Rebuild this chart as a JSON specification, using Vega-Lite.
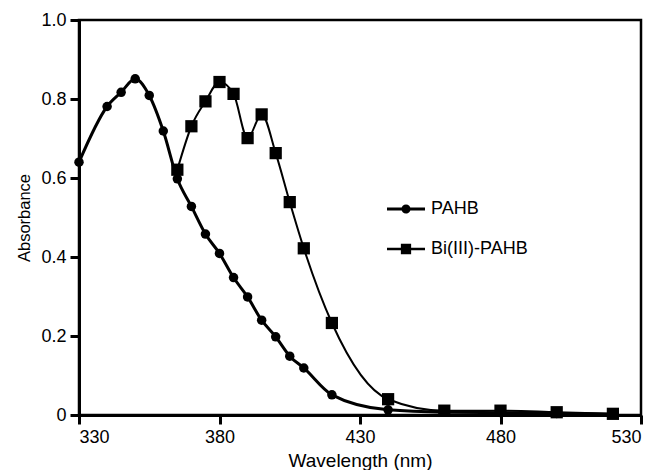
{
  "$schema": "https://vega.github.io/schema/vega-lite/v6.json",
  "width": 562,
  "height": 395,
  "autosize": "none",
  "padding": {"left": 79, "top": 20, "right": 17, "bottom": 55},
  "background": "white",
  "config": {
    "view": {"stroke": "black", "strokeWidth": 2.5},
    "font": "Liberation Sans",
    "axis": {
      "grid": false,
      "domainColor": "black",
      "domainWidth": 3,
      "tickColor": "black",
      "tickWidth": 3,
      "tickSize": 9,
      "labelColor": "black",
      "labelFont": "Liberation Sans",
      "labelFontSize": 18,
      "labelPadding": 4,
      "titleColor": "black",
      "titleFont": "Liberation Sans",
      "titleFontWeight": "normal"
    }
  },
  "data": {
    "values": [
      {"series": "PAHB", "wavelength": 330, "absorbance": 0.640},
      {"series": "PAHB", "wavelength": 340, "absorbance": 0.781},
      {"series": "PAHB", "wavelength": 345, "absorbance": 0.817},
      {"series": "PAHB", "wavelength": 350, "absorbance": 0.851},
      {"series": "PAHB", "wavelength": 355, "absorbance": 0.809},
      {"series": "PAHB", "wavelength": 360, "absorbance": 0.719},
      {"series": "PAHB", "wavelength": 365, "absorbance": 0.598},
      {"series": "PAHB", "wavelength": 370, "absorbance": 0.528},
      {"series": "PAHB", "wavelength": 375, "absorbance": 0.458},
      {"series": "PAHB", "wavelength": 380, "absorbance": 0.409},
      {"series": "PAHB", "wavelength": 385, "absorbance": 0.348},
      {"series": "PAHB", "wavelength": 390, "absorbance": 0.299},
      {"series": "PAHB", "wavelength": 395, "absorbance": 0.240},
      {"series": "PAHB", "wavelength": 400, "absorbance": 0.198},
      {"series": "PAHB", "wavelength": 405, "absorbance": 0.149},
      {"series": "PAHB", "wavelength": 410, "absorbance": 0.119},
      {"series": "PAHB", "wavelength": 420, "absorbance": 0.051},
      {"series": "PAHB", "wavelength": 440, "absorbance": 0.013},
      {"series": "PAHB", "wavelength": 460, "absorbance": 0.007},
      {"series": "PAHB", "wavelength": 480, "absorbance": 0.006},
      {"series": "PAHB", "wavelength": 500, "absorbance": 0.004},
      {"series": "PAHB", "wavelength": 520, "absorbance": 0.002},
      {"series": "Bi(III)-PAHB", "wavelength": 365, "absorbance": 0.621},
      {"series": "Bi(III)-PAHB", "wavelength": 370, "absorbance": 0.731},
      {"series": "Bi(III)-PAHB", "wavelength": 375, "absorbance": 0.794},
      {"series": "Bi(III)-PAHB", "wavelength": 380, "absorbance": 0.843},
      {"series": "Bi(III)-PAHB", "wavelength": 385, "absorbance": 0.813},
      {"series": "Bi(III)-PAHB", "wavelength": 390, "absorbance": 0.701},
      {"series": "Bi(III)-PAHB", "wavelength": 395, "absorbance": 0.761},
      {"series": "Bi(III)-PAHB", "wavelength": 400, "absorbance": 0.663},
      {"series": "Bi(III)-PAHB", "wavelength": 405, "absorbance": 0.539},
      {"series": "Bi(III)-PAHB", "wavelength": 410, "absorbance": 0.422},
      {"series": "Bi(III)-PAHB", "wavelength": 420, "absorbance": 0.233},
      {"series": "Bi(III)-PAHB", "wavelength": 440, "absorbance": 0.040},
      {"series": "Bi(III)-PAHB", "wavelength": 460, "absorbance": 0.011},
      {"series": "Bi(III)-PAHB", "wavelength": 480, "absorbance": 0.011},
      {"series": "Bi(III)-PAHB", "wavelength": 500, "absorbance": 0.007},
      {"series": "Bi(III)-PAHB", "wavelength": 520, "absorbance": 0.003}
    ]
  },
  "encoding": {
    "x": {
      "field": "wavelength",
      "type": "quantitative",
      "scale": {"domain": [330, 530], "nice": false, "zero": false},
      "axis": {
        "values": [330, 380, 430, 480, 530],
        "title": "Wavelength (nm)",
        "titleFontSize": 19,
        "titlePadding": 5
      }
    },
    "y": {
      "field": "absorbance",
      "type": "quantitative",
      "scale": {"domain": [0, 1], "nice": false},
      "axis": {
        "values": [0, 0.2, 0.4, 0.6, 0.8, 1.0],
        "labelExpr": "datum.value == 0 ? '0' : format(datum.value, '.1f')",
        "title": "Absorbance",
        "titleFontSize": 16.5,
        "titlePadding": 8
      }
    }
  },
  "layer": [
    {
      "transform": [{"filter": {"field": "series", "equal": "PAHB"}}],
      "mark": {"type": "line", "interpolate": "monotone", "color": "black", "strokeWidth": 3}
    },
    {
      "transform": [{"filter": {"field": "series", "equal": "Bi(III)-PAHB"}}],
      "mark": {"type": "line", "interpolate": "monotone", "color": "black", "strokeWidth": 2}
    },
    {
      "mark": {"type": "point", "filled": true, "color": "black", "opacity": 1},
      "encoding": {
        "shape": {
          "field": "series",
          "type": "nominal",
          "scale": {"domain": ["PAHB", "Bi(III)-PAHB"], "range": ["circle", "square"]},
          "legend": null
        },
        "size": {
          "field": "series",
          "type": "nominal",
          "scale": {"domain": ["PAHB", "Bi(III)-PAHB"], "range": [90, 150]},
          "legend": null
        }
      }
    },
    {
      "transform": [{"filter": {"field": "series", "equal": "none"}}],
      "mark": {"type": "point", "filled": true, "color": "black", "opacity": 1, "size": 1444},
      "encoding": {
        "shape": {
          "field": "series",
          "type": "nominal",
          "scale": {
            "domain": ["PAHB", "Bi(III)-PAHB"],
            "range": [
              "M-1,-0.08L-0.1,-0.08L-0.1,0.08L-1,0.08ZM0.1,-0.08L1,-0.08L1,0.08L0.1,0.08ZM0.24,0A0.24,0.24 0 1,1 -0.24,0A0.24,0.24 0 1,1 0.24,0Z",
              "M-1,-0.07L-0.1,-0.07L-0.1,0.07L-1,0.07ZM0.1,-0.07L1,-0.07L1,0.07L0.1,0.07ZM-0.27,-0.27L0.27,-0.27L0.27,0.27L-0.27,0.27Z"
            ]
          },
          "legend": {
            "title": null,
            "orient": "none",
            "legendX": 308,
            "legendY": 170,
            "padding": 0,
            "rowPadding": 12,
            "symbolSize": 1444,
            "symbolFillColor": "black",
            "symbolStrokeWidth": 0,
            "symbolOpacity": 1,
            "labelFont": "Liberation Sans",
            "labelFontSize": 18,
            "labelColor": "black",
            "labelOffset": 6
          }
        }
      }
    }
  ],
  "resolve": {"scale": {"shape": "independent", "size": "independent"}}
}
